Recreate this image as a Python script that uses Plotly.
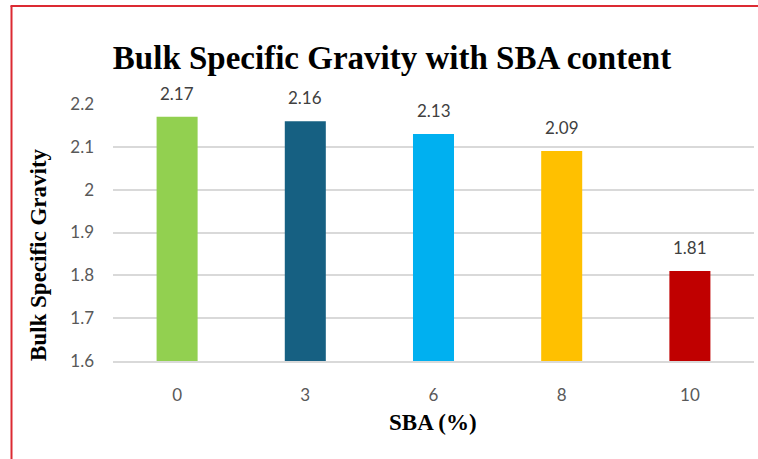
import plotly.graph_objects as go

# SBA content (%) and bulk specific gravity
sba_content = ["0", "3", "6", "8", "10"]
bulk_sg = [2.17, 2.16, 2.13, 2.09, 1.81]
bar_colors = ["#92D050", "#166082", "#00B0F0", "#FFC000", "#C00000"]
y_ticks = [1.6, 1.7, 1.8, 1.9, 2.0, 2.1, 2.2]

W, H = 758, 459
L, R, T, B = 113, 4, 104, 98
plot_w, plot_h = W - L - R, H - T - B

serif = "Liberation Serif, Times New Roman, serif"
sans = "Lato, Open Sans, sans-serif"

fig = go.Figure()
fig.add_trace(go.Bar(
    x=sba_content,
    y=bulk_sg,
    marker=dict(color=bar_colors, line=dict(width=0)),
    width=0.32,
    hoverinfo="x+y",
))

# value labels above the bars (category index positions)
for i, val in enumerate(bulk_sg):
    fig.add_annotation(
        x=i, y=val, text=f"{val:.2f}", showarrow=False,
        yanchor="bottom", yshift=11,
        font=dict(family=sans, size=17, color="#404040"),
    )

def px_to_paper_x(px):
    return (px - L) / plot_w

def px_to_paper_y(py):
    return (H - B - py) / plot_h

# axis titles placed in figure pixels
fig.add_annotation(
    xref="paper", yref="paper", x=px_to_paper_x(38), y=px_to_paper_y(255),
    text="<b>Bulk Specific Gravity</b>", textangle=-90, showarrow=False,
    xanchor="center", yanchor="middle",
    font=dict(family=serif, size=23, color="black"),
)
fig.add_annotation(
    xref="paper", yref="paper", x=px_to_paper_x(433), y=px_to_paper_y(422),
    text="<b>SBA (%)</b>", showarrow=False,
    xanchor="center", yanchor="middle",
    font=dict(family=serif, size=23, color="black"),
)

# red frame line on the left and top edges of the figure
frame = dict(color="#DC2A32", width=2)
fig.add_shape(type="line", xref="paper", yref="paper",
              x0=px_to_paper_x(11.5), x1=px_to_paper_x(11.5),
              y0=px_to_paper_y(6), y1=px_to_paper_y(H + 2), line=frame)
fig.add_shape(type="line", xref="paper", yref="paper",
              x0=px_to_paper_x(10.5), x1=px_to_paper_x(W + 2),
              y0=px_to_paper_y(6), y1=px_to_paper_y(6), line=frame)

fig.update_layout(
    width=W, height=H,
    margin=dict(l=L, r=R, t=T, b=B, pad=0),
    paper_bgcolor="white", plot_bgcolor="white",
    showlegend=False,
    title=dict(
        text="<b>Bulk Specific Gravity with SBA content</b>",
        x=392 / W, xanchor="center", y=1 - 57 / H, yanchor="middle",
        font=dict(family=serif, size=33, color="black"),
    ),
    xaxis=dict(
        type="category",
        range=[-0.5, 4.5],
        tickfont=dict(family=sans, size=17, color="#595959"),
        ticks="", showline=True, linecolor="#D9D9D9", linewidth=2,
        ticklabelstandoff=18,
        showgrid=False,
    ),
    yaxis=dict(
        range=[1.6, 2.2],
        tickvals=y_ticks,
        ticktext=[f"{v:g}" for v in y_ticks],
        tickfont=dict(family=sans, size=17, color="#595959"),
        ticks="", showline=False, zeroline=False,
        ticklabelstandoff=18,
        showgrid=True, gridcolor="#D9D9D9", gridwidth=2,
    ),
)

fig.write_html("out.html")
